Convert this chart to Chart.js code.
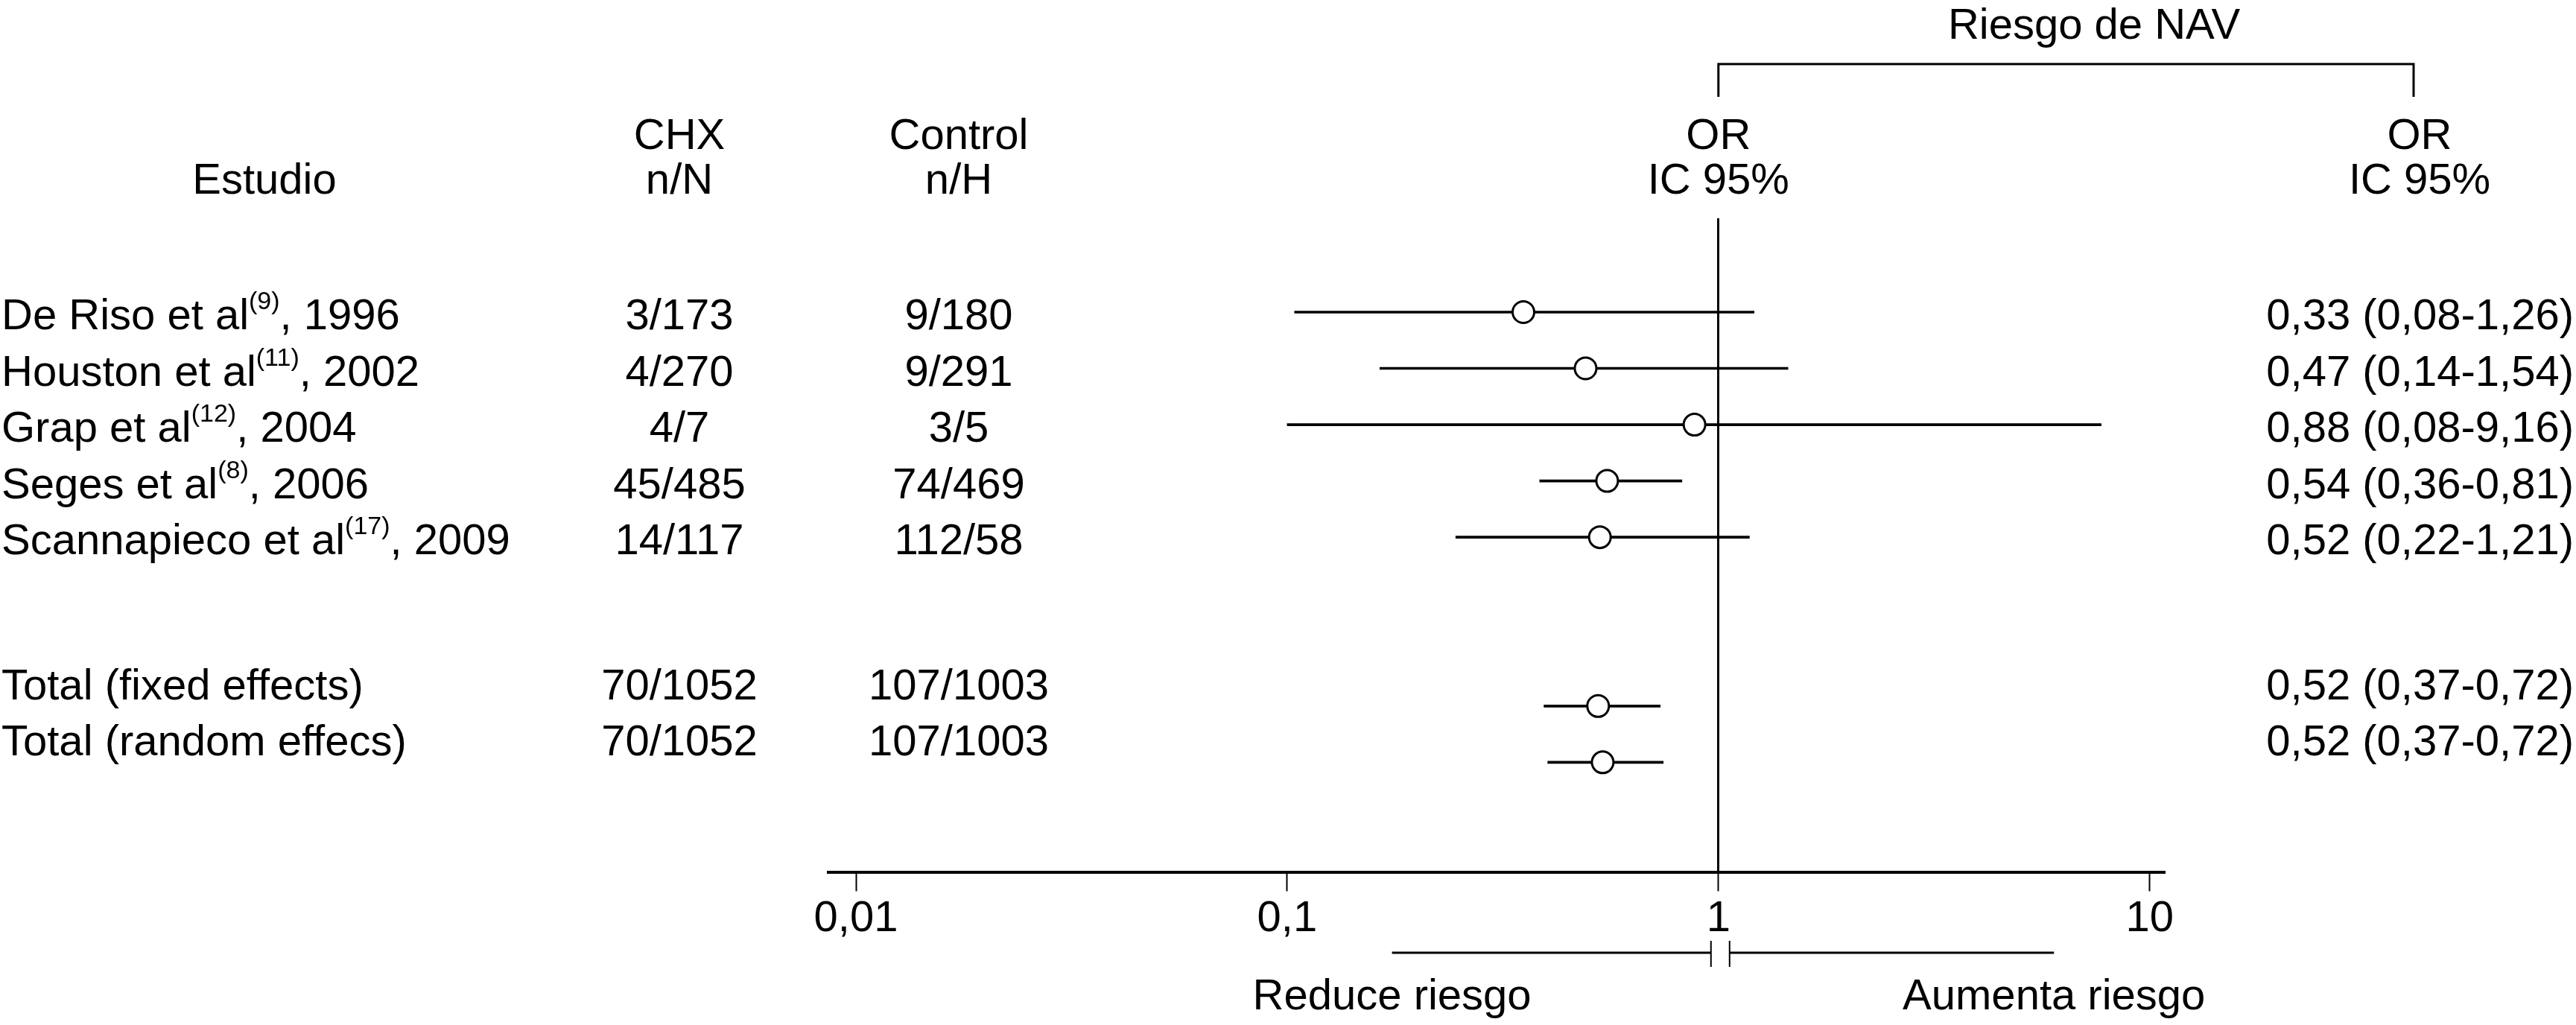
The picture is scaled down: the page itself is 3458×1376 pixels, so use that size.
<!DOCTYPE html>
<html lang="es">
<head>
<meta charset="utf-8">
<title>Riesgo de NAV</title>
<script src="https://cdn.jsdelivr.net/npm/chart.js@4.4.1/dist/chart.umd.min.js"></script>
<style>
  html, body { margin: 0; padding: 0; background: #fff; }
  canvas { display: block; }
</style>
</head>
<body>
<canvas id="forest" width="3458" height="1376"></canvas>
<script>
// one entry per row of the plot, two blank rows before the pooled totals
const studyNames = ['De Riso et al', 'Houston et al', 'Grap et al', 'Seges et al', 'Scannapieco et al', '', '', 'Total (fixed effects)', 'Total (random effecs)'];
const studyRefs = ['(9)', '(11)', '(12)', '(8)', '(17)', '', '', '', ''];
const studyYears = [', 1996', ', 2002', ', 2004', ', 2006', ', 2009', '', '', '', ''];
const chxCounts = ['3/173', '4/270', '4/7', '45/485', '14/117', '', '', '70/1052', '70/1052'];
const controlCounts = ['9/180', '9/291', '3/5', '74/469', '112/58', '', '', '107/1003', '107/1003'];
const orText = ['0,33 (0,08-1,26)', '0,47 (0,14-1,54)', '0,88 (0,08-9,16)', '0,54 (0,36-0,81)', '0,52 (0,22-1,21)', '', '', '0,52 (0,37-0,72)', '0,52 (0,37-0,72)'];

// odds ratios and intervals as they are drawn in the figure
const orValues = [0.353, 0.492, 0.88, 0.552, 0.531, null, null, 0.526, 0.539];
const ciLow = [0.104, 0.164, 0.100, 0.385, 0.246, null, null, 0.394, 0.402];
const ciHigh = [1.21, 1.45, 7.72, 0.823, 1.18, null, null, 0.733, 0.745];

const tickValues = [0.01, 0.1, 1, 10];
const tickLabels = ['0,01', '0,1', '1', '10'];

const FONT = '"Liberation Sans", Arial, Helvetica, sans-serif';

const points = [];
const intervals = [];
orValues.forEach((v, i) => {
    if (v === null) return;
    points.push({ x: v, y: i });
    intervals.push({ x: [ciLow[i], ciHigh[i]], y: i });
});

const tablePlugin = {
    id: 'forestTable',
    afterDraw(chart) {
        const ctx = chart.ctx;
        const xs = chart.scales.x;
        const ys = chart.scales.y;
        const one = xs.getPixelForValue(1);

        ctx.save();
        ctx.fillStyle = '#000';
        ctx.strokeStyle = '#000';
        ctx.textBaseline = 'alphabetic';
        ctx.font = '58px ' + FONT;

        // column headers
        ctx.textAlign = 'center';
        ctx.fillText('Estudio', 355, 260);
        ctx.fillText('CHX', 912, 200);
        ctx.fillText('n/N', 912, 260);
        ctx.fillText('Control', 1287, 200);
        ctx.fillText('n/H', 1287, 260);
        ctx.fillText('OR', one, 200);
        ctx.fillText('IC 95%', one, 260);
        ctx.fillText('OR', 3248, 200);
        ctx.fillText('IC 95%', 3248, 260);
        ctx.fillText('Riesgo de NAV', 2811, 52);

        // bracket over the two OR columns
        ctx.lineWidth = 3;
        ctx.beginPath();
        ctx.moveTo(one, 130);
        ctx.lineTo(one, 86);
        ctx.lineTo(3240, 86);
        ctx.lineTo(3240, 130);
        ctx.stroke();

        // table rows
        studyNames.forEach((name, i) => {
            if (!name) return;
            const base = ys.getPixelForValue(i) + (studyRefs[i] ? 23 : -9);

            ctx.textAlign = 'left';
            let cx = 2;
            ctx.font = '58px ' + FONT;
            ctx.fillText(name, cx, base);
            cx += ctx.measureText(name).width;
            if (studyRefs[i]) {
                ctx.font = '34px ' + FONT;
                ctx.fillText(studyRefs[i], cx, base - 27);
                cx += ctx.measureText(studyRefs[i]).width;
                ctx.font = '58px ' + FONT;
                ctx.fillText(studyYears[i], cx, base);
            }

            ctx.font = '58px ' + FONT;
            ctx.textAlign = 'center';
            ctx.fillText(chxCounts[i], 912, base);
            ctx.fillText(controlCounts[i], 1287, base);
            ctx.textAlign = 'right';
            ctx.fillText(orText[i], 3455, base);
        });

        // direction bar under the axis
        const left = xs.getPixelForValue(0.175);
        const right = xs.getPixelForValue(6.0);
        ctx.lineWidth = 3;
        ctx.beginPath();
        ctx.moveTo(left, 1279);
        ctx.lineTo(one - 10, 1279);
        ctx.moveTo(one + 15, 1279);
        ctx.lineTo(right, 1279);
        ctx.stroke();
        ctx.lineWidth = 2;
        ctx.beginPath();
        ctx.moveTo(one - 10, 1263);
        ctx.lineTo(one - 10, 1298);
        ctx.moveTo(one + 15, 1263);
        ctx.lineTo(one + 15, 1298);
        ctx.stroke();

        ctx.font = '58px ' + FONT;
        ctx.textAlign = 'center';
        ctx.fillText('Reduce riesgo', left, 1355);
        ctx.fillText('Aumenta riesgo', right, 1355);
        ctx.restore();
    }
};

new Chart(document.getElementById('forest'), {
    type: 'bar',
    data: {
        datasets: [
            {
                type: 'scatter',
                data: points,
                pointRadius: 14.5,
                pointBorderWidth: 3,
                pointBackgroundColor: '#fff',
                pointBorderColor: '#000',
                order: 0
            },
            {
                type: 'bar',
                data: intervals,
                backgroundColor: '#000',
                borderWidth: 0,
                barThickness: 3,
                order: 1
            }
        ]
    },
    options: {
        indexAxis: 'y',
        responsive: false,
        devicePixelRatio: 1,
        animation: false,
        events: [],
        layout: { padding: { left: 1112, right: 553, top: 293, bottom: 104 } },
        plugins: { legend: { display: false }, tooltip: { enabled: false } },
        scales: {
            x: {
                type: 'logarithmic',
                min: 0.00863,
                max: 10.8,
                afterBuildTicks: s => { s.ticks = tickValues.map(v => ({ value: v })); },
                afterFit: s => { s.paddingLeft = 0; s.paddingRight = 0; },
                ticks: {
                    callback: (v, i) => tickLabels[i],
                    font: { size: 58, family: FONT },
                    color: '#000',
                    padding: 3,
                    maxRotation: 0,
                    autoSkip: false
                },
                grid: {
                    drawOnChartArea: true,
                    color: c => (c.tick && c.tick.value === 1 ? '#000' : 'rgba(0,0,0,0)'),
                    lineWidth: 3,
                    tickColor: '#000',
                    tickWidth: 2,
                    tickLength: 25
                },
                border: { display: true, color: '#000', width: 4 }
            },
            y: {
                type: 'linear',
                reverse: true,
                min: -0.837,
                max: 9.129,
                display: false
            }
        }
    },
    plugins: [tablePlugin]
});
</script>
</body>
</html>
